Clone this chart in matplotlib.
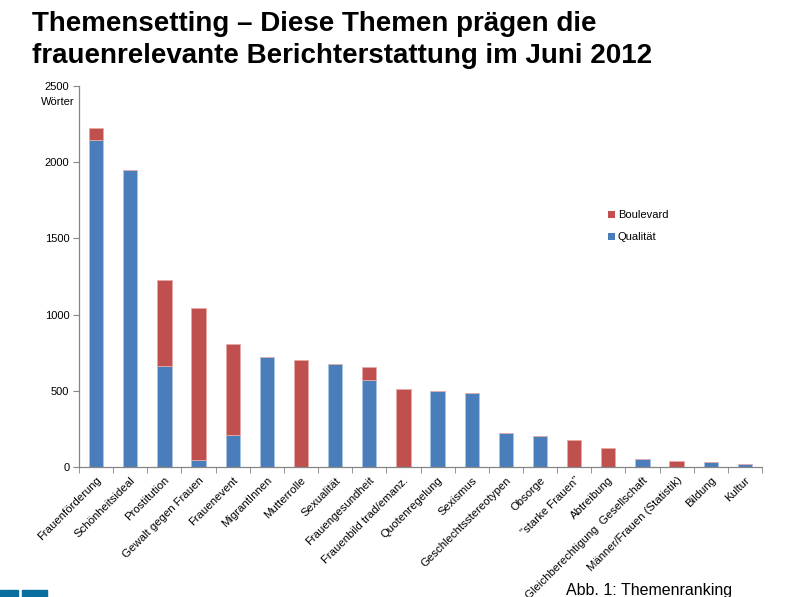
import matplotlib
matplotlib.use("Agg")
import matplotlib.pyplot as plt
from matplotlib.patches import Rectangle, Patch
import numpy as np

plt.rcParams['font.family'] = ['Liberation Sans', 'DejaVu Sans']

categories = ["Frauenförderung", "Schönheitsideal", "Prostitution", "Gewalt gegen Frauen",
              "Frauenevent", "MigrantInnen", "Mutterrolle", "Sexualität", "Frauengesundheit",
              "Frauenbild trad/emanz.", "Quotenregelung", "Sexismus", "Geschlechtsstereotypen",
              "Obsorge", "\"starke Frauen\"", "Abtreibung", "Gleichberechtigung  Gesellschaft",
              "Männer/Frauen (Statistik)", "Bildung", "Kultur"]
qualitaet = [2145, 1950, 665, 46, 208, 720, 0, 674, 573, 0, 499, 483, 223, 203, 0, 0, 52, 0, 35, 22]
boulevard = [80, 0, 565, 1000, 597, 0, 704, 0, 81, 512, 0, 0, 0, 0, 175, 125, 0, 37, 0, 0]
yticks = [0, 500, 1000, 1500, 2000, 2500]

blue = "#4a7ebb"
red = "#c0504d"
axis_col = "#868686"

fig = plt.figure(figsize=(8, 5.97), dpi=100)
ax = fig.add_axes([79/800, 1 - 467/597, 683/800, 381/597])

x = np.arange(len(categories))
ax.bar(x, qualitaet, width=0.42, color=blue, edgecolor="#a9c4e8", linewidth=0.6, label="Qualität")
ax.bar(x, boulevard, width=0.42, bottom=qualitaet, color=red, edgecolor="#e6a9a7", linewidth=0.6, label="Boulevard")

ax.set_xlim(-0.5, len(categories) - 0.5)
ax.set_ylim(0, 2500)
ax.set_yticks(yticks)
ax.set_yticklabels([str(v) for v in yticks], fontsize=8)
ax.set_xticks(x)
ax.set_xticklabels(categories, rotation=45, ha="right", rotation_mode="anchor", fontsize=8.2)
ax.set_xticks(np.arange(-0.5, len(categories) + 0.5, 1), minor=True)
ax.tick_params(axis="x", which="major", length=0, pad=6)
ax.tick_params(axis="x", which="minor", length=4, color=axis_col, direction="out")
ax.tick_params(axis="y", length=4, color=axis_col, direction="out", pad=3)

for s in ["top", "right"]:
    ax.spines[s].set_visible(False)
for s in ["left", "bottom"]:
    ax.spines[s].set_color(axis_col)
    ax.spines[s].set_linewidth(0.9)

fig.text(75/800, 1 - 102/597, "Wörter", fontsize=8, ha="right", va="center")

handles = [Patch(facecolor=red, label="Boulevard"), Patch(facecolor=blue, label="Qualität")]
ax.legend(handles=handles, loc="upper left", bbox_to_anchor=(598/800, 1 - 200/597),
          bbox_transform=fig.transFigure, frameon=False, fontsize=8,
          handlelength=0.6, handleheight=0.6, handletextpad=0.3, labelspacing=1.1)

fig.text(32/800, 1 - 24/597, "Themensetting – Diese Themen prägen die", fontsize=20,
         fontweight="bold", ha="left", va="center")
fig.text(32/800, 1 - 56/597, "frauenrelevante Berichterstattung im Juni 2012", fontsize=20,
         fontweight="bold", ha="left", va="center")

fig.text(566/800, 1 - 591/597, "Abb. 1: Themenranking", fontsize=11.5, ha="left", va="center")

fig.patches.append(Rectangle((0, 0), 18/800, 7/597, transform=fig.transFigure, color="#0a6e9e"))
fig.patches.append(Rectangle((22/800, 0), 25/800, 7/597, transform=fig.transFigure, color="#0a6e9e"))

fig.savefig("out.png", dpi=100)
